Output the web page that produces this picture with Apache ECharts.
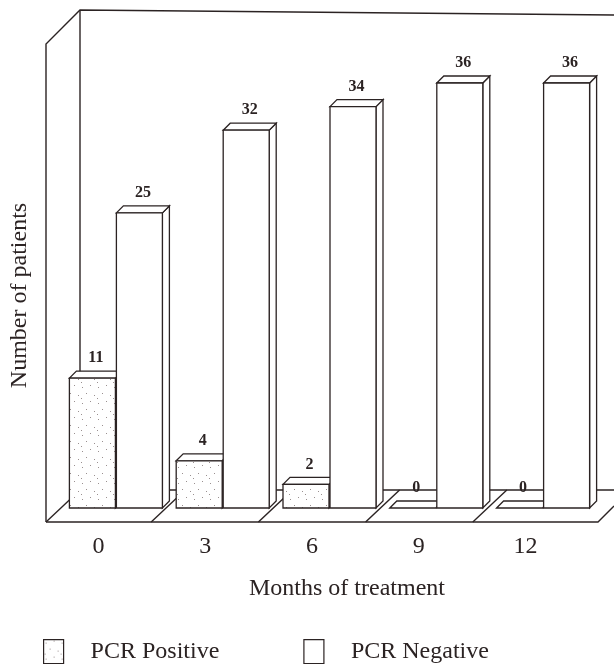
<!DOCTYPE html>
<html>
<head>
<meta charset="utf-8">
<script src="https://cdn.jsdelivr.net/npm/echarts@6/dist/echarts.min.js"></script>
<style>
  html, body { margin: 0; padding: 0; background: #fff; }
  #chart { width: 614px; height: 664px; }
</style>
</head>
<body>
<div id="chart"></div>
<script>
// Patients by PCR result over the months of treatment
const months = ['0', '3', '6', '9', '12'];
const pcrPositive = [11, 4, 2, 0, 0];
const pcrNegative = [25, 32, 34, 36, 36];
const seriesNames = ['PCR Positive', 'PCR Negative'];

const INK = '#2b2323';
const FONT = '"Liberation Serif", "DejaVu Serif", serif';

// Layout of the plotting box and the pseudo-3D depth of each box
const GRID_LEFT = 60, GRID_RIGHT = 18, GRID_TOP = 83, GRID_BOTTOM = 156;
const W = 614, H = 664;
const BAR_W = 46, DX = 7, DY = -7;

// Sparse stipple fill for the positive bars
function makeDots() {
  const c = document.createElement('canvas');
  c.width = 16; c.height = 16;
  const g = c.getContext('2d');
  g.fillStyle = '#fff';
  g.fillRect(0, 0, 16, 16);
  g.fillStyle = '#9a9090';
  [[2, 3], [10, 1], [6, 9], [14, 11], [1, 14]].forEach(p => g.fillRect(p[0], p[1], 1, 1));
  return { image: c, repeat: 'repeat' };
}
const dots = makeDots();

function boxRenderer(side, frontFill) {
  return function (params, api) {
    const cat = api.value(0), val = api.value(1);
    const base = api.coord([cat, 0]);
    const top = api.coord([cat, val]);
    const x0 = side === 0 ? base[0] - BAR_W : base[0] + 1;
    const x1 = x0 + BAR_W;
    const yb = base[1], yt = top[1];
    const line = { stroke: INK, lineWidth: 1.3 };
    const children = [
      { type: 'polygon', shape: { points: [[x1, yt], [x1 + DX, yt + DY], [x1 + DX, yb + DY], [x1, yb]] },
        style: Object.assign({ fill: '#fff' }, line) },
      { type: 'polygon', shape: { points: [[x0, yt], [x0 + DX, yt + DY], [x1 + DX, yt + DY], [x1, yt]] },
        style: Object.assign({ fill: '#fff' }, line) }
    ];
    if (yb - yt > 0.5) {
      children.push({ type: 'rect', shape: { x: x0, y: yt, width: BAR_W, height: yb - yt },
        style: Object.assign({ fill: frontFill }, line) });
    }
    children.push({ type: 'text', style: {
      x: (x0 + x1 + DX) / 2, y: yt + DY - 5, text: String(val),
      align: 'center', verticalAlign: 'bottom',
      font: 'bold 16px ' + FONT, fill: INK } });
    return { type: 'group', children: children };
  };
}

// Walls and floor of the box the bars stand in
const band = (W - GRID_LEFT - GRID_RIGHT) / months.length;
const floorFront = 522, floorBack = 490, wallX = 80, frontX = 46;
const frame = [
  { type: 'polyline', shape: { points: [[frontX, floorFront], [frontX, 44], [wallX, 10], [W, 15]] } },
  { type: 'line', shape: { x1: wallX, y1: 10, x2: wallX, y2: floorBack } },
  { type: 'line', shape: { x1: wallX, y1: floorBack, x2: W, y2: floorBack } },
  { type: 'line', shape: { x1: frontX, y1: floorFront, x2: wallX, y2: floorBack } },
  { type: 'polyline', shape: { points: [[frontX, floorFront], [598, floorFront], [W, 506]] } }
];
for (let k = 1; k < months.length; k++) {
  const b = GRID_LEFT + k * band;
  frame.push({ type: 'line', shape: { x1: b - 16, y1: floorFront, x2: b + 18, y2: floorBack } });
}
frame.forEach(el => { el.z = 0; el.silent = true; el.style = { stroke: INK, lineWidth: 1.4, fill: null }; });

const chart = echarts.init(document.getElementById('chart'), null, { renderer: 'canvas' });
chart.setOption({
  backgroundColor: '#fff',
  animation: false,
  grid: { left: GRID_LEFT, right: GRID_RIGHT, top: GRID_TOP, bottom: GRID_BOTTOM },
  xAxis: {
    type: 'category', data: months,
    axisLine: { show: false }, axisTick: { show: false },
    axisLabel: { margin: 27, fontFamily: FONT, fontSize: 24, color: INK, padding: [0, 34, 0, 0] },
    name: 'Months of treatment', nameLocation: 'middle', nameGap: 69,
    nameTextStyle: { fontFamily: FONT, fontSize: 24, color: INK, padding: [0, 0, 0, 36] }
  },
  yAxis: {
    type: 'value', min: 0, max: 36,
    axisLine: { show: false }, axisTick: { show: false },
    axisLabel: { show: false }, splitLine: { show: false },
    name: 'Number of patients', nameLocation: 'middle', nameGap: 30,
    nameTextStyle: { fontFamily: FONT, fontSize: 24, color: INK }
  },
  legend: {
    left: 38, top: 634, itemWidth: 20, itemHeight: 24, itemGap: 84,
    textStyle: { fontFamily: FONT, fontSize: 24, color: INK, padding: [0, 0, 0, 22] },
    data: [
      { name: seriesNames[0], icon: 'rect', itemStyle: { color: dots, borderColor: INK, borderWidth: 1.2 } },
      { name: seriesNames[1], icon: 'rect', itemStyle: { color: '#fff', borderColor: INK, borderWidth: 1.2 } }
    ]
  },
  graphic: frame,
  series: [
    {
      name: seriesNames[0], type: 'custom', clip: false,
      itemStyle: { color: dots, borderColor: INK },
      renderItem: boxRenderer(0, dots),
      data: pcrPositive.map((v, i) => [i, v])
    },
    {
      name: seriesNames[1], type: 'custom', clip: false,
      itemStyle: { color: '#fff', borderColor: INK },
      renderItem: boxRenderer(1, '#fff'),
      data: pcrNegative.map((v, i) => [i, v])
    }
  ]
});
</script>
</body>
</html>
